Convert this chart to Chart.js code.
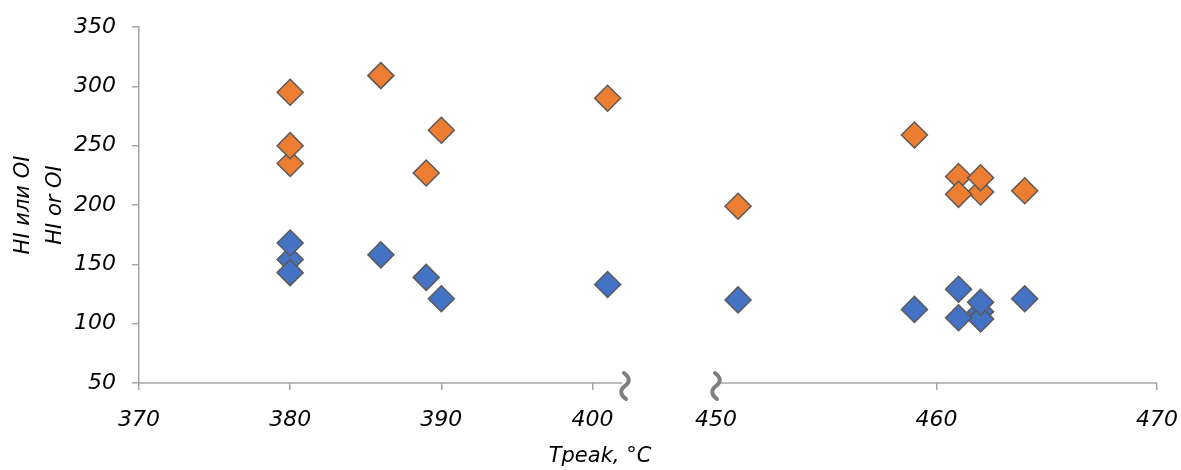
<!DOCTYPE html>
<html lang="ru">
<head>
    <meta charset="UTF-8">
    <title>HI / OI vs Tpeak</title>
    <style>
        body { margin: 0; background: #fff; }
        .chart-container { width: 1181px; height: 470px; }
    </style>
    <script src="https://cdn.jsdelivr.net/npm/chart.js"></script>
</head>
<body>
    <div class="chart-container">
        <canvas id="scatter"></canvas>
    </div>

    <script>
        // HI series (orange) and OI series (blue)
        const tpeakOrange = [380, 380, 380, 386, 389, 390, 401, 451, 459, 461, 462, 462, 461, 464];
        const valueOrange = [235, 250, 295, 309, 227, 263, 290, 199, 259, 224, 211, 223, 209, 212];
        const tpeakBlue = [380, 380, 380, 386, 389, 390, 401, 451, 459, 462, 462, 461, 462, 461, 464];
        const valueBlue = [154, 168, 143, 158, 139, 121, 133, 120, 112, 110, 104, 105, 118, 129, 121];

        const xTicks = [370, 380, 390, 400, 450, 460, 470];
        const yTicks = [50, 100, 150, 200, 250, 300, 350];

        // broken x axis: two ranges sharing one axis
        const xSegments = [
            { from: 370, to: 402.15, start: 0, end: 0.4774 },
            { from: 450, to: 470, start: 0.5668, end: 1 }
        ];

        const FONT = "'DejaVu Sans', 'Open Sans', sans-serif";
        const AXIS_GREY = '#a6a6a6';

        class BrokenScale extends Chart.LinearScale {
            getPixelForValue(value) {
                if (value === null || value === undefined) return NaN;
                let dec;
                const [a, b] = xSegments;
                if (value <= a.to) {
                    dec = a.start + (value - a.from) / (a.to - a.from) * (a.end - a.start);
                } else if (value >= b.from) {
                    dec = b.start + (value - b.from) / (b.to - b.from) * (b.end - b.start);
                } else {
                    dec = a.end + (value - a.to) / (b.from - a.to) * (b.start - a.end);
                }
                return this.getPixelForDecimal(dec);
            }
            getValueForPixel(pixel) {
                const dec = this.getDecimalForPixel(pixel);
                for (const s of xSegments) {
                    if (dec >= s.start && dec <= s.end) {
                        return s.from + (dec - s.start) / (s.end - s.start) * (s.to - s.from);
                    }
                }
                return NaN;
            }
        }
        BrokenScale.id = 'broken';
        BrokenScale.defaults = {};
        Chart.register(BrokenScale);

        const toPoints = (xs, ys) => xs.map((x, i) => ({ x: x, y: ys[i] }));

        // axis line with a gap + wavy break marks, and the x title
        const brokenAxisPlugin = {
            id: 'brokenAxis',
            afterDraw(chart) {
                const ctx = chart.ctx;
                const xs = chart.scales.x;
                const area = chart.chartArea;
                const y = area.bottom;
                const leftEnd = xs.getPixelForValue(xSegments[0].to);
                const rightStart = xs.getPixelForValue(xSegments[1].from);

                ctx.save();
                ctx.strokeStyle = AXIS_GREY;
                ctx.lineWidth = 1.5;
                ctx.beginPath();
                ctx.moveTo(area.left, y);
                ctx.lineTo(leftEnd - 3, y);
                ctx.moveTo(rightStart + 3, y);
                ctx.lineTo(area.right, y);
                ctx.stroke();

                ctx.strokeStyle = '#7f7f7f';
                ctx.lineWidth = 4;
                ctx.lineCap = 'round';
                [leftEnd, rightStart].forEach(px => {
                    const cy = y + 3;
                    ctx.beginPath();
                    ctx.moveTo(px - 1, cy - 13);
                    ctx.quadraticCurveTo(px + 8, cy - 6, px, cy);
                    ctx.quadraticCurveTo(px - 8, cy + 6, px + 1, cy + 13);
                    ctx.stroke();
                });

                ctx.fillStyle = '#000';
                ctx.font = 'italic 21px ' + FONT;
                ctx.textAlign = 'center';
                ctx.textBaseline = 'middle';
                ctx.fillText('Tpeak, °C', (area.left + area.right) / 2 - 48, 457);
                ctx.restore();
            }
        };

        const diamond = {
            pointStyle: 'rectRot',
            pointRadius: 13,
            pointHoverRadius: 13,
            borderColor: '#5a5a5a',
            borderWidth: 1.5
        };

        new Chart(document.getElementById('scatter'), {
            type: 'scatter',
            data: {
                datasets: [
                    Object.assign({ label: 'HI', data: toPoints(tpeakOrange, valueOrange), backgroundColor: '#ed7d31' }, diamond),
                    Object.assign({ label: 'OI', data: toPoints(tpeakBlue, valueBlue), backgroundColor: '#4472c4' }, diamond)
                ]
            },
            options: {
                responsive: true,
                maintainAspectRatio: false,
                animation: false,
                layout: { padding: { left: 0, top: 27, right: 24, bottom: 0 } },
                plugins: {
                    legend: { display: false },
                    tooltip: { enabled: false }
                },
                scales: {
                    x: {
                        type: 'broken',
                        min: 370,
                        max: 470,
                        afterBuildTicks: axis => { axis.ticks = xTicks.map(v => ({ value: v })); },
                        afterFit: axis => {
                            axis.height = 87;
                            axis.paddingLeft = 0;
                            axis.paddingRight = 0;
                        },
                        border: { display: false },
                        grid: {
                            drawOnChartArea: false,
                            tickLength: 7,
                            lineWidth: 1.5,
                            color: c => (c.tick && c.tick.value === 450) ? 'rgba(0,0,0,0)' : AXIS_GREY
                        },
                        ticks: {
                            autoSkip: false,
                            maxRotation: 0,
                            padding: 17,
                            color: '#000',
                            font: { family: FONT, size: 22, style: 'italic' }
                        }
                    },
                    y: {
                        min: 50,
                        max: 350,
                        afterBuildTicks: axis => { axis.ticks = yTicks.map(v => ({ value: v })); },
                        afterFit: axis => {
                            axis.width = 139;
                            axis.paddingTop = 0;
                            axis.paddingBottom = 0;
                        },
                        border: { display: true, color: AXIS_GREY, width: 1.5 },
                        grid: {
                            drawOnChartArea: false,
                            tickLength: 7,
                            lineWidth: 1.5,
                            color: AXIS_GREY
                        },
                        ticks: {
                            padding: 16,
                            color: '#000',
                            font: { family: FONT, size: 22, style: 'italic' }
                        },
                        title: {
                            display: true,
                            text: ['HI или OI', 'HI or OI'],
                            color: '#000',
                            padding: { top: 7, bottom: 0 },
                            font: { family: FONT, size: 21, style: 'italic', lineHeight: 1.55 }
                        }
                    }
                }
            },
            plugins: [brokenAxisPlugin]
        });
    </script>
</body>
</html>
